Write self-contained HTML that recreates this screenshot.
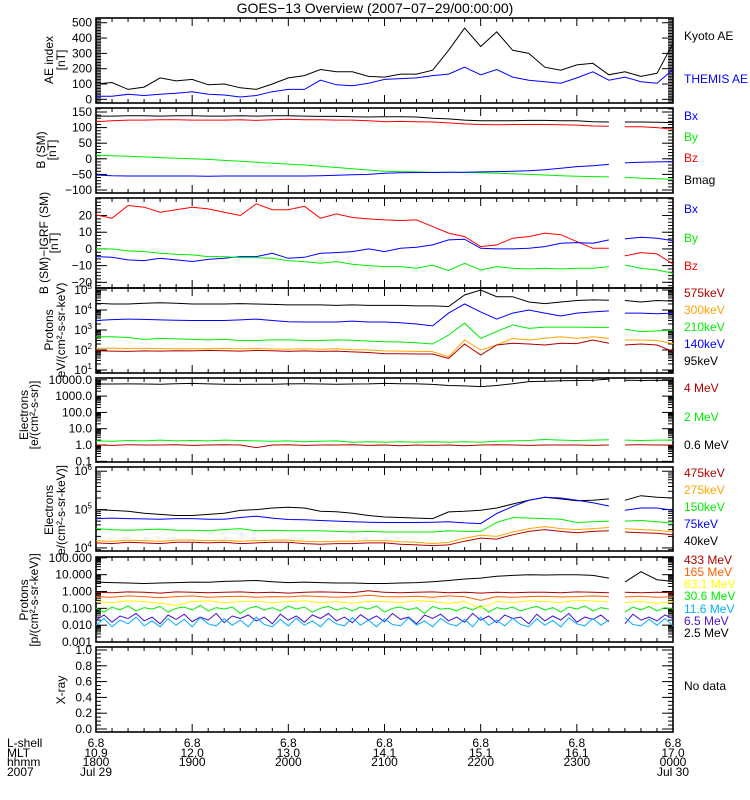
<!DOCTYPE html>
<html><head><meta charset="utf-8"><title>GOES-13 Overview</title>
<style>
html,body{margin:0;padding:0;background:#fff;}
svg{display:block;font-family:"Liberation Sans",sans-serif;}
text{font-size:12px;}
</style></head>
<body>
<svg id="chart" width="750" height="800" viewBox="0 0 750 800">
<text x="375" y="13" text-anchor="middle" style="font-size:14px">GOES−13 Overview (2007−07−29/00:00:00)</text>
<g id="frames"></g>
<g id="series"></g>
<g id="labels"></g>
</svg>
<script>
// ---- data (10-min samples 18:00..24:00 unless noted; 5-min for noisy proton channels) ----
const hourLabels = ["1800","1900","2000","2100","2200","2300","0000"];
const mltLabels = ["10.9","12.0","13.0","14.1","15.1","16.1","17.0"];
const lshellLabels = ["6.8","6.8","6.8","6.8","6.8","6.8","6.8"];
const dateLabels = ["Jul 29","","","","","","Jul 30"];

const aeKyoto = [100,110,65,80,140,120,130,95,100,75,65,100,140,155,195,180,180,150,145,165,165,190,320,465,345,440,320,300,210,190,225,235,160,180,150,170,365];
const aeThemis = [20,20,33,25,33,40,50,33,28,15,25,50,65,65,125,95,88,105,130,135,140,155,165,210,160,195,145,125,115,105,140,180,125,145,115,105,195];

const bBmag = [137,137,138,138,137,138,138,137,137,138,137,138,138,137,136,136,135,134,135,135,134,130,128,124,122,122,122,123,123,122,122,119,118,118,118,117,116];
const bBz = [119,122,124,124,125,125,124,124,124,125,123,125,127,125,125,124,124,122,119,120,119,118,115,112,110,109,110,110,110,109,108,105,104,103,103,100,95];
const bBy = [12,10,8,6,4,2,0,-2,-5,-8,-11,-14,-17,-20,-24,-28,-32,-36,-40,-41,-42,-43,-43,-44,-45,-46,-48,-50,-52,-54,-56,-57,-58,-60,-62,-64,-66];
const bBx = [-52,-54,-55,-55,-55,-55,-55,-56,-55,-55,-55,-55,-55,-55,-54,-53,-51,-50,-46,-45,-44,-44,-43,-43,-42,-41,-40,-38,-35,-30,-25,-22,-18,-13,-11,-10,-9];

const dBz = [20.4,18.4,26,25,22,23.5,25,24,22,20,27,23.5,23.5,25.5,18.4,21,18.8,18,17.4,17,17.4,13.4,9.5,7.4,1.4,2.4,6.4,7.4,9.5,8.5,4.4,0.4,0.4,-4.2,-2.2,-3,-9];
const dBx = [-4.6,-5,-6.6,-7,-5.6,-6.6,-7.5,-6.3,-5.6,-4.6,-4.6,-2.6,-5.6,-5,-2.6,-2.2,-1.6,0,-1.6,0.4,1,2.4,5.4,5.8,0.4,0,0,0.4,1.4,3.4,3.8,3.4,5.4,6,7,6.4,5];
const dBy = [0,0,-1.2,-1.6,-2.6,-3.2,-3.6,-4.6,-4.6,-5.2,-5.2,-5.6,-7,-7.6,-8.6,-7.6,-9.2,-10,-10.6,-10.6,-11.6,-9.6,-13,-8.6,-12.6,-10.6,-11.6,-12,-11.6,-12,-11.6,-11.6,-10.6,-9.6,-11.6,-12.6,-14.6];

const pK95 = [2.2e4,2e4,2e4,2.2e4,2.3e4,2.2e4,2e4,2e4,2e4,2.1e4,2e4,1.9e4,1.8e4,1.8e4,1.8e4,1.7e4,1.8e4,1.7e4,1.7e4,1.7e4,1.6e4,1.6e4,1.5e4,5.6e4,1e5,4.6e4,4.6e4,2.5e4,2.1e4,2.5e4,3e4,3.2e4,3.1e4,3e4,2.5e4,3e4,2.8e4];
const pK140 = [3e3,3.3e3,3.5e3,3.4e3,3.2e3,3.1e3,3e3,3e3,3e3,3.2e3,3.5e3,3e3,2.6e3,2.5e3,2.5e3,2.5e3,2.8e3,2.5e3,2.5e3,2.3e3,2e3,1.6e3,7e3,2e4,8e3,3.5e3,7e3,1e4,7e3,5e3,7e3,8e3,9e3,7e3,7e3,6.5e3,7e3];
const pK210 = [460,460,420,340,380,360,340,320,340,300,300,320,320,300,300,320,310,280,260,250,230,200,560,2200,380,830,1800,1200,1400,1400,1400,1350,1350,1100,830,900,950];
const pK300 = [120,125,120,120,118,115,115,118,120,115,120,112,110,115,110,115,105,100,90,88,85,83,46,316,100,178,380,316,380,460,380,460,380,316,316,300,210];
const pK575 = [92,88,85,90,88,92,90,95,92,88,95,92,85,90,85,88,80,75,65,65,63,63,38,200,56,178,220,200,178,220,210,316,220,178,200,178,83];

const e06 = [5500,5500,5600,5500,5400,5700,6000,5600,5400,5200,5300,5400,5600,5700,5500,5300,5500,5600,6000,5800,5600,5200,4500,4200,3800,4500,5800,7700,8200,8800,9000,9500,11000,9500,9000,9500,9000];
const e2 = [1.8,1.7,1.9,1.8,2.0,1.8,1.9,1.8,2.0,1.9,1.8,1.7,1.8,1.6,1.7,1.8,1.5,1.6,1.5,1.6,1.5,1.6,1.5,1.6,1.5,1.7,1.8,1.9,2.2,2.0,1.9,2.0,2.1,2.0,1.9,2.0,2.0];
const e4 = [1.0,0.95,1.05,1.0,1.0,1.05,0.95,1.0,1.05,1.0,0.7,1.0,1.05,0.95,1.0,1.0,1.05,0.95,1.0,0.9,1.0,0.95,1.0,0.9,1.0,1.05,1.0,0.95,1.0,1.0,1.0,0.95,1.0,1.0,1.05,1.0,1.0];

const ek40 = [1e5,9.5e4,9e4,8e4,7.5e4,7e4,7e4,7.5e4,8e4,9.5e4,1e5,1.1e5,1.15e5,1.1e5,9e4,8.8e4,8e4,7e4,6.4e4,6.2e4,6e4,5.8e4,8.7e4,9e4,9.6e4,1.1e5,1.4e5,1.75e5,2.1e5,1.9e5,1.7e5,1.75e5,1.9e5,1.75e5,2.3e5,2.1e5,2e5];
const ek75 = [5.8e4,6e4,5.8e4,5.7e4,5.6e4,5.8e4,5.8e4,5.6e4,5.6e4,6.2e4,6.7e4,6e4,5.5e4,5.4e4,5.2e4,5e4,4.8e4,4.7e4,4.6e4,4.6e4,4.6e4,4.7e4,4.8e4,4.5e4,4.3e4,7.9e4,1.2e5,1.75e5,2.1e5,2e5,1.75e5,1.5e5,1.24e5,9.6e4,1.1e5,1.1e5,9.6e4];
const ek150 = [3.2e4,3e4,2.9e4,3e4,3.1e4,2.9e4,2.9e4,2.8e4,3e4,3.2e4,2.8e4,2.9e4,2.8e4,2.8e4,2.8e4,2.7e4,2.6e4,2.7e4,2.6e4,2.6e4,2.6e4,2.6e4,2.8e4,2.7e4,2.7e4,4.6e4,6.2e4,6e4,5.8e4,5.6e4,4.6e4,4.8e4,5e4,5e4,5.2e4,4.8e4,4.4e4];
const ek275 = [1.55e4,1.5e4,1.6e4,1.55e4,1.5e4,1.6e4,1.6e4,1.55e4,1.6e4,1.5e4,1.55e4,1.6e4,1.6e4,1.5e4,1.45e4,1.5e4,1.5e4,1.55e4,1.55e4,1.45e4,1.4e4,1.3e4,1.4e4,1.8e4,2.15e4,2e4,2.6e4,3.2e4,3.6e4,3.2e4,3e4,3.2e4,3.4e4,3.2e4,3e4,2.9e4,2.6e4];
const ek475 = [1.35e4,1.3e4,1.4e4,1.35e4,1.3e4,1.4e4,1.4e4,1.35e4,1.4e4,1.3e4,1.35e4,1.4e4,1.4e4,1.3e4,1.25e4,1.3e4,1.3e4,1.35e4,1.35e4,1.25e4,1.2e4,1.15e4,1.2e4,1.5e4,1.8e4,1.7e4,2.2e4,2.7e4,3e4,2.7e4,2.5e4,2.7e4,2.8e4,2.6e4,2.5e4,2.4e4,2.2e4];

const pm25 = [3.6,3.4,3.2,3.0,3.2,3.4,3.6,3.5,4,4.2,4.5,3.8,3.4,3.6,3.4,3.2,3.2,3.0,3.0,3.2,3.4,3.8,4.5,5.5,6.3,8,9,10,9.5,10,10,9,6.3,3.6,15,5,4];
const pm433 = [0.9,0.85,0.95,0.9,0.8,0.95,0.9,0.85,0.9,0.95,0.85,0.9,0.8,0.9,0.95,0.9,0.85,1.1,0.9,0.85,0.9,0.95,0.85,0.9,0.8,0.9,0.85,0.9,0.9,0.85,0.95,0.9,0.85,0.9,0.85,0.9,0.85];
const pm165 = [0.5,0.45,0.55,0.5,0.42,0.5,0.55,0.45,0.5,0.52,0.45,0.5,0.48,0.55,0.5,0.45,0.5,0.6,0.5,0.48,0.52,0.45,0.55,0.5,0.3,0.5,0.45,0.5,0.52,0.48,0.5,0.55,0.5,0.48,0.52,0.45,0.5];
const pm63 = [0.25,0.22,0.28,0.25,0.2,0.15,0.25,0.28,0.22,0.25,0.27,0.22,0.25,0.28,0.22,0.25,0.2,0.26,0.25,0.22,0.28,0.25,0.2,0.25,0.1,0.25,0.22,0.28,0.25,0.22,0.3,0.27,0.25,0.22,0.25,0.2,0.25];
const pm30 = [0.1,0.06,0.12,0.08,0.14,0.07,0.11,0.09,0.13,0.06,0.1,0.12,0.08,0.15,0.07,0.11,0.09,0.12,0.05,0.1,0.13,0.08,0.11,0.07,0.14,0.09,0.12,0.06,0.1,0.13,0.08,0.11,0.07,0.12,0.09,0.14,0.06,0.1,0.12,0.08,0.11,0.05,0.13,0.09,0.1,0.07,0.12,0.08,0.14,0.06,0.11,0.09,0.12,0.07,0.1,0.13,0.08,0.11,0.06,0.12,0.09,0.14,0.07,0.11,0.09,0.1,0.06,0.12,0.08,0.13,0.07,0.11,0.09];
const pm11 = [0.01,0.025,0.008,0.02,0.012,0.03,0.009,0.018,0.008,0.025,0.01,0.022,0.008,0.028,0.012,0.009,0.024,0.01,0.02,0.008,0.03,0.011,0.008,0.022,0.009,0.026,0.01,0.018,0.008,0.025,0.012,0.009,0.028,0.01,0.02,0.008,0.024,0.011,0.009,0.027,0.01,0.018,0.008,0.025,0.012,0.009,0.022,0.008,0.03,0.01,0.02,0.009,0.026,0.011,0.008,0.024,0.01,0.019,0.008,0.027,0.012,0.009,0.025,0.01,0.02,0.008,0.028,0.011,0.009,0.022,0.01,0.025,0.009];
const pm65 = [0.02,0.04,0.015,0.035,0.025,0.05,0.018,0.03,0.012,0.04,0.022,0.045,0.016,0.03,0.02,0.05,0.014,0.035,0.025,0.04,0.018,0.03,0.012,0.045,0.02,0.035,0.015,0.04,0.025,0.05,0.018,0.03,0.014,0.042,0.02,0.035,0.016,0.05,0.022,0.03,0.012,0.04,0.025,0.045,0.018,0.03,0.015,0.05,0.02,0.035,0.014,0.04,0.025,0.03,0.012,0.045,0.018,0.035,0.02,0.05,0.015,0.03,0.022,0.04,0.016,0.035,0.012,0.045,0.02,0.03,0.018,0.04,0.025];

// ---- layout / axes ----
const NS = "http://www.w3.org/2000/svg";
const X0 = 96, X1 = 673, HOURS = 6;
const GAP = [5.34, 5.49];
function xScale(h){ return X0 + h / HOURS * (X1 - X0); }
const panels = {
  ae:   {top:18,  bottom:103, log:false, min:-24,   max:531},
  bsm:  {top:108, bottom:193, log:false, min:-109.6,max:162.8},
  digrf:{top:198, bottom:288, log:false, min:-23.4, max:30.5},
  pkev: {top:288, bottom:373, log:true,  min:0.85,  max:5.1},
  emev: {top:378, bottom:462, log:true,  min:-1.04, max:4.11},
  ekev: {top:467, bottom:551, log:true,  min:3.92,  max:6.11},
  pmev: {top:557, bottom:642, log:true,  min:-3.0,  max:2.05},
  xray: {top:647, bottom:732, log:false, min:-0.038,max:1.038}
};
function yScale(p, v){
  const f = p.log ? Math.log10(v) : v;
  return p.bottom - (f - p.min) / (p.max - p.min) * (p.bottom - p.top);
}
function mk(tag, attrs, parent){
  const e = document.createElementNS(NS, tag);
  for (const k in attrs) e.setAttribute(k, attrs[k]);
  parent.appendChild(e);
  return e;
}
const gF = document.getElementById('frames');
const gS = document.getElementById('series');
const gL = document.getElementById('labels');

function drawSeries(p, vals, stepMin, color, name, useGap){
  let d = "", pen = false, prevH = -1;
  for (let i = 0; i < vals.length; i++){
    const h = i * stepMin / 60;
    if (useGap && h > GAP[0] && h < GAP[1]) { pen = false; prevH = h; continue; }
    if (useGap && prevH >= 0 && prevH <= GAP[0] && h >= GAP[1]) pen = false;
    const x = xScale(h), y = yScale(p, vals[i]);
    d += (pen ? "L" : "M") + x.toFixed(1) + " " + y.toFixed(1);
    pen = true;
    prevH = h;
  }
  const path = mk('path', {d:d, fill:'none', stroke:color, 'stroke-width':1}, gS);
  
  
}

function hline(x1,y1,x2,y2,parent,w){
  return mk('line',{x1:x1,y1:y1,x2:x2,y2:y2,stroke:'#000','stroke-width':w||1},parent);
}

function drawFrame(key, name){
  const p = panels[key];
  const r = mk('rect',{x:X0,y:p.top,width:X1-X0,height:p.bottom-p.top,fill:'none',stroke:'#000','stroke-width':1.6},gF);
  
  
  for (let m = 0; m <= HOURS*60; m += 10){
    const x = xScale(m/60), len = (m % 60 === 0) ? 8 : 4;
    hline(x, p.bottom, x, p.bottom - len, gF);
    hline(x, p.top, x, p.top + len, gF);
  }
}
function yTick(p, v, len){
  const y = yScale(p, v);
  if (y < p.top - 0.5 || y > p.bottom + 0.5) return;
  hline(X0, y, X0 + len, y, gF);
  hline(X1, y, X1 - len, y, gF);
}
function yLabel(p, v, txt, name, sup){
  const y = yScale(p, v);
  const t = mk('text',{x:X0-4, y:y+4, 'text-anchor':'end'}, gL);
  
  
  if (sup){
    t.textContent = "10";
    const ts = mk('tspan',{dy:-5,style:'font-size:8px'},t);
    ts.textContent = sup;
  } else t.textContent = txt;
}
function linTicks(p, majors, minorStep, labels, name){
  for (let v = Math.ceil(p.min/minorStep)*minorStep; v <= p.max; v += minorStep) yTick(p, v, 5);
  majors.forEach((v,i) => { yTick(p, v, 11); yLabel(p, v, labels[i], name + '-tick-label'); });
}
function logTicks(p, decades, labels, sups, name){
  for (let d = Math.floor(p.min); d <= Math.ceil(p.max); d++){
    for (let k = 2; k <= 9; k++) yTick(p, k*Math.pow(10,d), 5);
  }
  decades.forEach((d,i) => {
    yTick(p, Math.pow(10,d), 11);
    yLabel(p, Math.pow(10,d), labels ? labels[i] : "", name + '-tick-label', sups ? sups[i] : null);
  });
}
function yTitle(lines, xs, cy, name){
  lines.forEach((s,i) => {
    const t = mk('text',{x:0,y:0,'text-anchor':'middle',transform:'translate('+xs[i]+','+cy+') rotate(-90)'},gL);
    
    
    t.textContent = s;
  });
}
function rLabel(txt, y, color, name){
  const t = mk('text',{x:684,y:y,fill:color},gL);
  
  
  t.textContent = txt;
}

drawFrame('ae','ae-panel');
linTicks(panels.ae,[0,100,200,300,400,500],10,["0","100","200","300","400","500"],'ae');
drawFrame('bsm','bsm-panel');
linTicks(panels.bsm,[-100,-50,0,50,100,150],10,["−100","−50","0","50","100","150"],'bsm');
drawFrame('digrf','bigrf-panel');
linTicks(panels.digrf,[-20,-10,0,10,20],2,["−20","−10","0","10","20"],'bigrf');
drawFrame('pkev','proton-kev-panel');
logTicks(panels.pkev,[1,2,3,4,5],null,["1","2","3","4","5"],'proton-kev');
drawFrame('emev','electron-mev-panel');
logTicks(panels.emev,[-1,0,1,2,3,4],["0.1","1.0","10.0","100.0","1000.0","10000.0"],null,'electron-mev');
drawFrame('ekev','electron-kev-panel');
logTicks(panels.ekev,[4,5,6],null,["4","5","6"],'electron-kev');
drawFrame('pmev','proton-mev-panel');
logTicks(panels.pmev,[-3,-2,-1,0,1,2],["0.001","0.010","0.100","1.000","10.000","100.000"],null,'proton-mev');
drawFrame('xray','xray-panel');
linTicks(panels.xray,[0,0.2,0.4,0.6,0.8,1.0],0.05,["0.0","0.2","0.4","0.6","0.8","1.0"],'xray');

drawSeries(panels.ae, aeKyoto, 10, '#000', 'kyoto-ae-line', false);
drawSeries(panels.ae, aeThemis, 10, '#0000ff', 'themis-ae-line', false);
drawSeries(panels.bsm, bBmag, 10, '#000', 'bmag-line', true);
drawSeries(panels.bsm, bBz, 10, '#ff0000', 'bz-line', true);
drawSeries(panels.bsm, bBy, 10, '#00ee00', 'by-line', true);
drawSeries(panels.bsm, bBx, 10, '#0000ff', 'bx-line', true);
drawSeries(panels.digrf, dBz, 10, '#ff0000', 'bz-igrf-line', true);
drawSeries(panels.digrf, dBx, 10, '#0000ff', 'bx-igrf-line', true);
drawSeries(panels.digrf, dBy, 10, '#00ee00', 'by-igrf-line', true);
drawSeries(panels.pkev, pK95, 10, '#000', 'proton-95kev-line', true);
drawSeries(panels.pkev, pK140, 10, '#0000ff', 'proton-140kev-line', true);
drawSeries(panels.pkev, pK210, 10, '#00ee00', 'proton-210kev-line', true);
drawSeries(panels.pkev, pK300, 10, '#ffa500', 'proton-300kev-line', true);
drawSeries(panels.pkev, pK575, 10, '#b00000', 'proton-575kev-line', true);
drawSeries(panels.emev, e06, 10, '#000', 'electron-0.6mev-line', true);
drawSeries(panels.emev, e2, 10, '#00ee00', 'electron-2mev-line', true);
drawSeries(panels.emev, e4, 10, '#b00000', 'electron-4mev-line', true);
drawSeries(panels.ekev, ek40, 10, '#000', 'electron-40kev-line', true);
drawSeries(panels.ekev, ek75, 10, '#0000ff', 'electron-75kev-line', true);
drawSeries(panels.ekev, ek150, 10, '#00ee00', 'electron-150kev-line', true);
drawSeries(panels.ekev, ek275, 10, '#ffa500', 'electron-275kev-line', true);
drawSeries(panels.ekev, ek475, 10, '#b00000', 'electron-475kev-line', true);
drawSeries(panels.pmev, pm65, 5, '#4a10c8', 'proton-6.5mev-line', true);
drawSeries(panels.pmev, pm11, 5, '#00b0ff', 'proton-11.6mev-line', true);
drawSeries(panels.pmev, pm30, 5, '#00ee00', 'proton-30.6mev-line', true);
drawSeries(panels.pmev, pm63, 10, '#ffff00', 'proton-63.1mev-line', true);
drawSeries(panels.pmev, pm165, 10, '#ff6000', 'proton-165mev-line', true);
drawSeries(panels.pmev, pm433, 10, '#b00000', 'proton-433mev-line', true);
drawSeries(panels.pmev, pm25, 10, '#000', 'proton-2.5mev-line', true);

yTitle(["AE index","[nT]"],[53,65],60,'ae-y-title');
yTitle(["B (SM)","[nT]"],[45,56],150,'bsm-y-title');
yTitle(["B (SM)−IGRF (SM)","[nT]"],[48,58],243,'bigrf-y-title');
yTitle(["Protons","eV/(cm²-s-sr-keV)"],[53,65],330,'proton-kev-y-title');
yTitle(["Electrons","[e/(cm²-s-sr)]"],[28,38],415,'electron-mev-y-title');
yTitle(["Electrons","e/(cm²-s-sr-keV)]"],[53,65],510,'electron-kev-y-title');
yTitle(["Protons","[p/(cm²-s-sr-keV)]"],[28,38],600,'proton-mev-y-title');
yTitle(["X-ray"],[65],690,'xray-y-title');

rLabel("Kyoto AE",40,'#000','legend-kyoto-ae');
rLabel("THEMIS AE",83,'#0000ff','legend-themis-ae');
rLabel("Bx",120,'#0000ff','legend-bx');
rLabel("By",141,'#00ee00','legend-by');
rLabel("Bz",162,'#ff0000','legend-bz');
rLabel("Bmag",184,'#000','legend-bmag');
rLabel("Bx",213,'#0000ff','legend-bx-igrf');
rLabel("By",242,'#00ee00','legend-by-igrf');
rLabel("Bz",270,'#ff0000','legend-bz-igrf');
rLabel("575keV",297,'#b00000','legend-proton-575kev');
rLabel("300keV",314,'#ffa500','legend-proton-300kev');
rLabel("210keV",331,'#00ee00','legend-proton-210kev');
rLabel("140keV",348,'#0000ff','legend-proton-140kev');
rLabel("95keV",365,'#000','legend-proton-95kev');
rLabel("4 MeV",392,'#b00000','legend-electron-4mev');
rLabel("2 MeV",421,'#00ee00','legend-electron-2mev');
rLabel("0.6 MeV",449,'#000','legend-electron-0.6mev');
rLabel("475keV",477,'#b00000','legend-electron-475kev');
rLabel("275keV",494,'#ffa500','legend-electron-275kev');
rLabel("150keV",511,'#00ee00','legend-electron-150kev');
rLabel("75keV",528,'#0000ff','legend-electron-75kev');
rLabel("40keV",545,'#000','legend-electron-40kev');
rLabel("433 MeV",564,'#b00000','legend-proton-433mev');
rLabel("165 MeV",576,'#ff6000','legend-proton-165mev');
rLabel("63.1 MeV",588,'#ffff00','legend-proton-63mev');
rLabel("30.6 MeV",600,'#00ee00','legend-proton-30mev');
rLabel("11.6 MeV",613,'#00b0ff','legend-proton-11mev');
rLabel("6.5 MeV",625,'#4a10c8','legend-proton-6.5mev');
rLabel("2.5 MeV",637,'#000','legend-proton-2.5mev');
rLabel("No data",690,'#000','xray-no-data');

const rowNames = ["L-shell","MLT","hhmm","2007"];
const rowY = [747,757,766,776];
rowNames.forEach((s,i) => {
  const t = mk('text',{x:7,y:rowY[i]},gL);
  
  
  t.textContent = s;
});
const rows = [lshellLabels, mltLabels, hourLabels, dateLabels];
rows.forEach((arr, r) => {
  arr.forEach((s, i) => {
    if (!s) return;
    const t = mk('text',{x:xScale(i),y:rowY[r],'text-anchor':'middle'},gL);
    
    
    t.textContent = s;
  });
});
</script>
</body></html>
